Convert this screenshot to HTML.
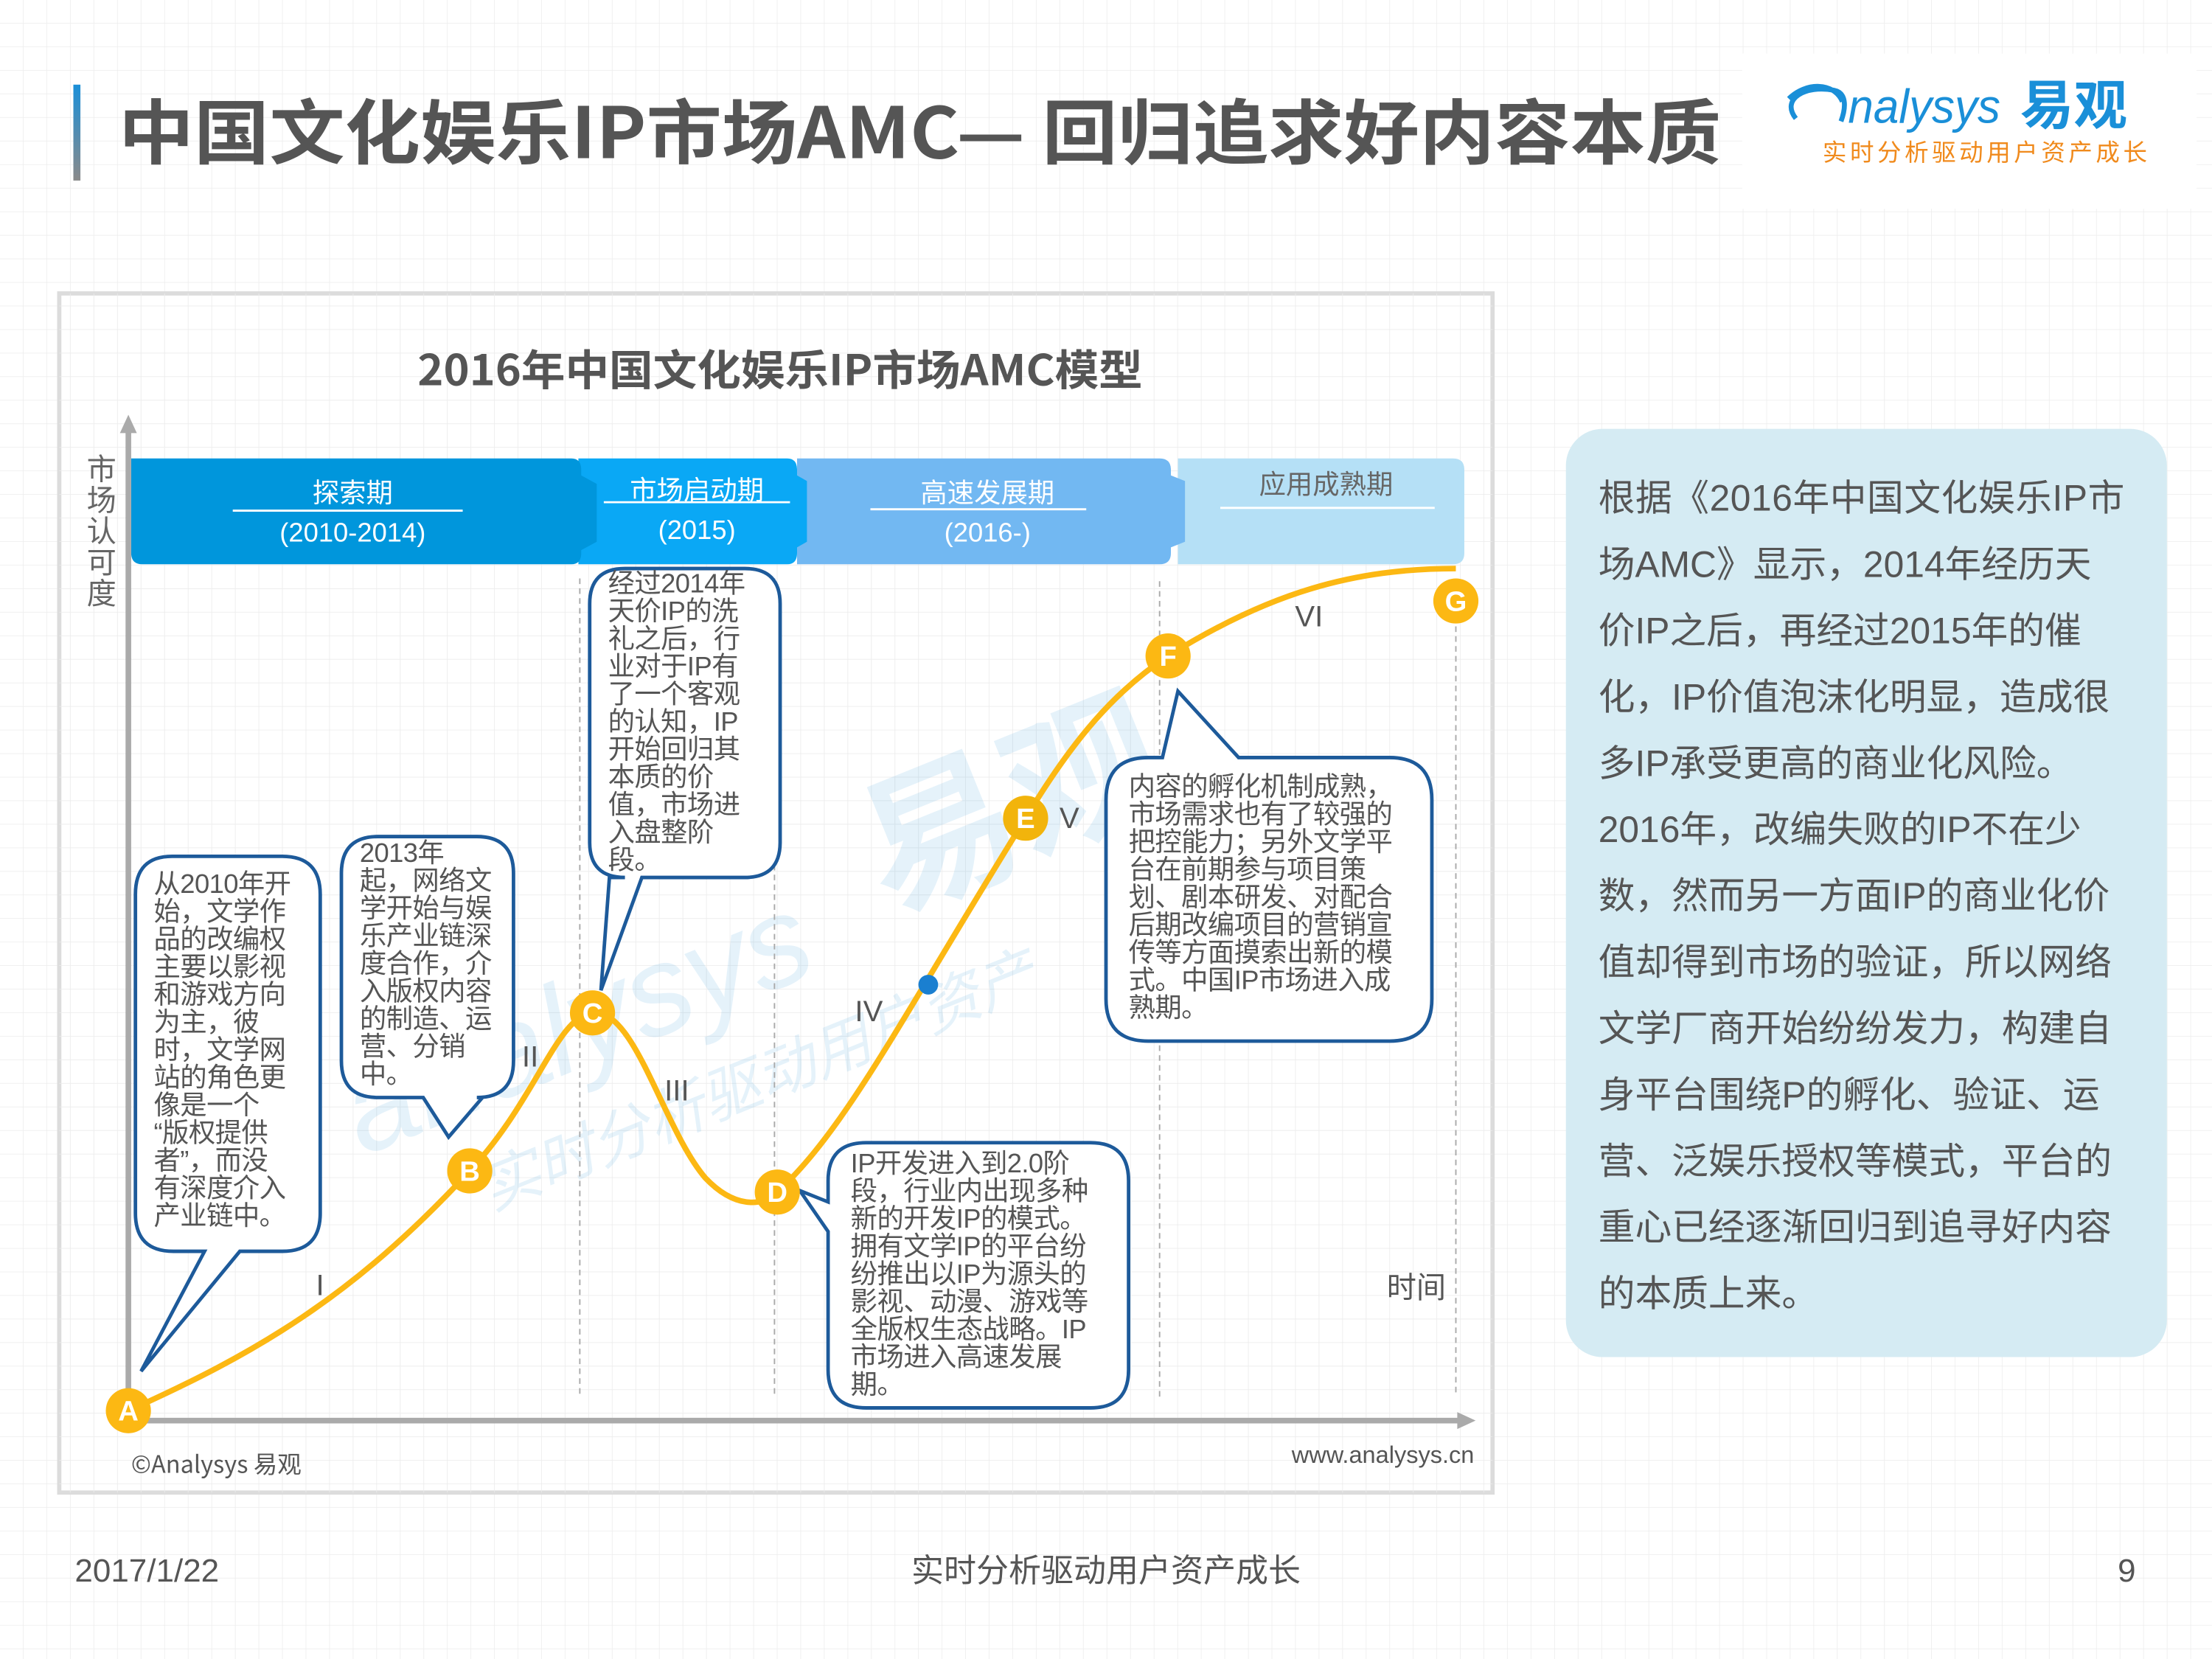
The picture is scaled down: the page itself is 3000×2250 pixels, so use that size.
<!DOCTYPE html>
<html><head><meta charset="utf-8">
<style>
html,body{margin:0;padding:0;background:#fff;}
svg{display:block;}
text{font-family:"Liberation Sans","Noto Sans CJK SC",sans-serif;}
.cjk{font-family:"Noto Sans CJK SC","Liberation Sans",sans-serif;}
.cb{fill:#555;font-size:19px;letter-spacing:-0.3px;}
.rp{fill:#555;font-size:26px;}
</style></head>
<body>
<svg width="3000" height="2250" viewBox="0 0 1568 1176" xmlns="http://www.w3.org/2000/svg">
<defs>
<pattern id="grid" width="16.7" height="16.7" patternUnits="userSpaceOnUse">
<path d="M16.7 0V16.7H0" fill="none" stroke="#ececec" stroke-width="0.8"/>
</pattern>
<linearGradient id="bar" x1="0" y1="0" x2="0" y2="1"><stop offset="0" stop-color="#1a8fd8"/><stop offset="1" stop-color="#8a8a8a"/></linearGradient>
</defs>
<rect width="1568" height="1176" fill="#fff"/>
<rect width="1568" height="1176" fill="url(#grid)"/>

<!-- header -->
<rect x="52" y="60" width="5" height="68" fill="url(#bar)"/>
<text x="84" y="112" class="cjk" font-size="50" font-weight="bold" fill="#555" textLength="1136" lengthAdjust="spacingAndGlyphs">中国文化娱乐IP市场AMC— 回归追求好内容本质</text>
<rect x="1235" y="38" width="322" height="110" fill="#fff"/>
<path d="M1273 84 C1262 70 1280 60 1300 64 C1310 66 1308 78 1305 86 M1268 70 C1280 58 1300 58 1306 72" fill="none" stroke="#1a8fd8" stroke-width="3.5"/>
<text x="1310" y="87" font-size="34" font-style="italic" fill="#1a8fd8" textLength="108" lengthAdjust="spacingAndGlyphs">nalysys</text>
<text x="1432" y="88" class="cjk" font-size="38" font-weight="bold" fill="#1a8fd8">易观</text>
<text x="1292" y="114" class="cjk" font-size="17" fill="#f08a1c" textLength="230" lengthAdjust="spacing">实时分析驱动用户资产成长</text>

<!-- chart frame -->
<rect x="42" y="208" width="1016" height="850" fill="#fff" fill-opacity="0.55" stroke="#dcdcdc" stroke-width="3"/>
<rect x="42" y="208" width="1016" height="850" fill="url(#grid)"/>
<text x="296" y="273" class="cjk" font-size="30" font-weight="bold" fill="#555" textLength="514" lengthAdjust="spacingAndGlyphs">2016年中国文化娱乐IP市场AMC模型</text>

<!-- watermark -->
<g opacity="0.11" transform="rotate(-22 500 700)">
<text x="230" y="720" font-size="90" font-style="italic" fill="#1a8fd8">analysys</text>
<text x="640" y="700" class="cjk" font-size="110" font-weight="bold" fill="#1a8fd8">易观</text>
<text x="300" y="790" class="cjk" font-size="42" fill="#1a8fd8" font-style="italic">实时分析驱动用户资产</text>
</g>

<!-- banner -->
<path d="M835 325 H1030 Q1038 325 1038 333 V392 Q1038 400 1030 400 H835 Z" fill="#b5e0f6"/>
<path d="M565 325 H822 Q830 325 830 333 V337 L840 341 V384 L830 388 V392 Q830 400 822 400 H565 Z" fill="#72b8f2"/>
<path d="M410 325 H558 Q565 325 565 333 V337 L572 341 V384 L565 388 V392 Q565 400 558 400 H410 Z" fill="#0aa8f5"/>
<path d="M93 325 H405 Q412 325 412 333 V337 L423 343 V384 L412 390 V392 Q412 400 405 400 H101 Q93 400 93 392 Z" fill="#0096dc"/>
<text x="250" y="356" class="cjk" font-size="19" fill="#fff" text-anchor="middle">探索期</text>
<line x1="165" y1="362" x2="328" y2="362" stroke="#fff" stroke-width="1.5"/>
<text x="250" y="384" font-size="19" fill="#fff" text-anchor="middle">(2010-2014)</text>
<text x="494" y="354" class="cjk" font-size="19" fill="#fff" text-anchor="middle">市场启动期</text>
<line x1="428" y1="356" x2="560" y2="356" stroke="#fff" stroke-width="1.5"/>
<text x="494" y="382" font-size="19" fill="#fff" text-anchor="middle">(2015)</text>
<text x="700" y="356" class="cjk" font-size="19" fill="#fff" text-anchor="middle">高速发展期</text>
<line x1="617" y1="361" x2="770" y2="361" stroke="#fff" stroke-width="1.5"/>
<text x="700" y="384" font-size="19" fill="#fff" text-anchor="middle">(2016-)</text>
<text x="940" y="350" class="cjk" font-size="19" fill="#666" text-anchor="middle">应用成熟期</text>
<line x1="865" y1="360" x2="1017" y2="360" stroke="#fff" stroke-width="1.5"/>

<!-- y label -->
<g class="cjk" font-size="21" fill="#666" text-anchor="middle">
<text x="72" y="340">市</text><text x="72" y="362">场</text><text x="72" y="384">认</text><text x="72" y="406">可</text><text x="72" y="428">度</text>
</g>

<!-- axes -->
<line x1="91" y1="305" x2="91" y2="1004" stroke="#aaa" stroke-width="4"/>
<path d="M85 307 L91 294 L97 307 Z" fill="#aaa"/>
<line x1="91" y1="1007" x2="1035" y2="1007" stroke="#aaa" stroke-width="4"/>
<path d="M1033 1001 L1046 1007 L1033 1013 Z" fill="#aaa"/>

<!-- dashed verticals -->
<g stroke="#aaa" stroke-width="1" stroke-dasharray="4,3">
<line x1="411" y1="410" x2="411" y2="990"/>
<line x1="549" y1="410" x2="549" y2="990"/>
<line x1="822" y1="412" x2="822" y2="990"/>
<line x1="1032" y1="430" x2="1032" y2="990"/>
</g>

<!-- curve -->
<path d="M91 1000 C180 960 250 920 333 830 C380 780 395 720 420 718 C450 714 470 800 500 835 C520 856 540 856 551 845 C600 800 640 720 727 580 C760 525 790 490 828 465 C900 420 960 403 1032 403" fill="none" stroke="#fcb813" stroke-width="4"/>
<circle cx="658" cy="698" r="7" fill="#1a7fd0"/>

<!-- roman numerals -->
<g font-size="21" fill="#555">
<text x="224" y="918">I</text>
<text x="370" y="756">II</text>
<text x="471" y="780">III</text>
<text x="606" y="724">IV</text>
<text x="751" y="587">V</text>
<text x="918" y="444">VI</text>
</g>
<text x="983" y="920" class="cjk" font-size="21" fill="#555">时间</text>

<!-- callouts -->
<g fill="#fff" stroke="#1d5a9a" stroke-width="2.5">
<path d="M122 607 H200 Q227 607 227 634 V860 Q227 887 200 887 H170 L100 972 L145 887 H123 Q96 887 96 860 V634 Q96 607 122 607 Z"/>
<path d="M268 593 H338 Q364 593 364 619 V752 Q364 778 338 778 H342 L318 806 L300 778 H268 Q242 778 242 752 V619 Q242 593 268 593 Z"/>
<path d="M443 403 H528 Q553 403 553 428 V597 Q553 622 528 622 H455 L426 702 L432 622 H443 Q418 622 418 597 V428 Q418 403 443 403 Z"/>
<path d="M614 810 H773 Q800 810 800 837 V971 Q800 998 773 998 H614 Q587 998 587 971 V873 L567 844 L587 852 V837 Q587 810 614 810 Z"/>
<path d="M814 537 H824 L835 490 L878 537 H985 Q1015 537 1015 567 V708 Q1015 738 985 738 H814 Q784 738 784 708 V567 Q784 537 814 537 Z"/>
</g>

<g class="cjk cb">
<text x="109" y="633"><tspan x="109">从2010年开</tspan><tspan x="109" dy="19.6">始，文学作</tspan><tspan x="109" dy="19.6">品的改编权</tspan><tspan x="109" dy="19.6">主要以影视</tspan><tspan x="109" dy="19.6">和游戏方向</tspan><tspan x="109" dy="19.6">为主，彼</tspan><tspan x="109" dy="19.6">时，文学网</tspan><tspan x="109" dy="19.6">站的角色更</tspan><tspan x="109" dy="19.6">像是一个</tspan><tspan x="109" dy="19.6">“版权提供</tspan><tspan x="109" dy="19.6">者”，而没</tspan><tspan x="109" dy="19.6">有深度介入</tspan><tspan x="109" dy="19.6">产业链中。</tspan></text>
<text x="255" y="611"><tspan x="255">2013年</tspan><tspan x="255" dy="19.6">起，网络文</tspan><tspan x="255" dy="19.6">学开始与娱</tspan><tspan x="255" dy="19.6">乐产业链深</tspan><tspan x="255" dy="19.6">度合作，介</tspan><tspan x="255" dy="19.6">入版权内容</tspan><tspan x="255" dy="19.6">的制造、运</tspan><tspan x="255" dy="19.6">营、分销</tspan><tspan x="255" dy="19.6">中。</tspan></text>
<text x="431" y="420"><tspan x="431">经过2014年</tspan><tspan x="431" dy="19.6">天价IP的洗</tspan><tspan x="431" dy="19.6">礼之后，行</tspan><tspan x="431" dy="19.6">业对于IP有</tspan><tspan x="431" dy="19.6">了一个客观</tspan><tspan x="431" dy="19.6">的认知，IP</tspan><tspan x="431" dy="19.6">开始回归其</tspan><tspan x="431" dy="19.6">本质的价</tspan><tspan x="431" dy="19.6">值，市场进</tspan><tspan x="431" dy="19.6">入盘整阶</tspan><tspan x="431" dy="19.6">段。</tspan></text>
<text x="603" y="831"><tspan x="603">IP开发进入到2.0阶</tspan><tspan x="603" dy="19.6">段，行业内出现多种</tspan><tspan x="603" dy="19.6">新的开发IP的模式。</tspan><tspan x="603" dy="19.6">拥有文学IP的平台纷</tspan><tspan x="603" dy="19.6">纷推出以IP为源头的</tspan><tspan x="603" dy="19.6">影视、动漫、游戏等</tspan><tspan x="603" dy="19.6">全版权生态战略。IP</tspan><tspan x="603" dy="19.6">市场进入高速发展</tspan><tspan x="603" dy="19.6">期。</tspan></text>
<text x="800" y="564"><tspan x="800">内容的孵化机制成熟，</tspan><tspan x="800" dy="19.6">市场需求也有了较强的</tspan><tspan x="800" dy="19.6">把控能力；另外文学平</tspan><tspan x="800" dy="19.6">台在前期参与项目策</tspan><tspan x="800" dy="19.6">划、剧本研发、对配合</tspan><tspan x="800" dy="19.6">后期改编项目的营销宣</tspan><tspan x="800" dy="19.6">传等方面摸索出新的模</tspan><tspan x="800" dy="19.6">式。中国IP市场进入成</tspan><tspan x="800" dy="19.6">熟期。</tspan></text>
</g>

<!-- nodes -->
<g font-size="20" font-weight="bold" fill="#fff" text-anchor="middle">
<circle cx="91" cy="1000" r="16" fill="#fcb813"/><text x="91" y="1007">A</text>
<circle cx="333" cy="830" r="16" fill="#fcb813"/><text x="333" y="837">B</text>
<circle cx="420" cy="718" r="16" fill="#fcb813"/><text x="420" y="725">C</text>
<circle cx="551" cy="845" r="16" fill="#fcb813"/><text x="551" y="852">D</text>
<circle cx="727" cy="580" r="16" fill="#f2b40c"/><text x="727" y="587">E</text>
<circle cx="828" cy="465" r="16" fill="#fcb813"/><text x="828" y="472">F</text>
<circle cx="1032" cy="426" r="16" fill="#fcb813"/><text x="1032" y="433">G</text>
</g>

<text x="93" y="1044" class="cjk" font-size="17" fill="#555">©Analysys 易观</text>
<text x="1045" y="1037" font-size="17" fill="#555" text-anchor="end">www.analysys.cn</text>

<!-- right panel -->
<rect x="1110" y="304" width="426" height="658" rx="26" fill="#d5ebf3"/>
<g class="cjk rp">
<text x="1133" y="362" textLength="373" lengthAdjust="spacing">根据《2016年中国文化娱乐IP市</text>
<text x="1133" y="409">场AMC》显示，2014年经历天</text>
<text x="1133" y="456">价IP之后，再经过2015年的催</text>
<text x="1133" y="503">化，IP价值泡沫化明显，造成很</text>
<text x="1133" y="550">多IP承受更高的商业化风险。</text>
<text x="1133" y="597">2016年，改编失败的IP不在少</text>
<text x="1133" y="644">数，然而另一方面IP的商业化价</text>
<text x="1133" y="691">值却得到市场的验证，所以网络</text>
<text x="1133" y="738">文学厂商开始纷纷发力，构建自</text>
<text x="1133" y="785">身平台围绕P的孵化、验证、运</text>
<text x="1133" y="832">营、泛娱乐授权等模式，平台的</text>
<text x="1133" y="879">重心已经逐渐回归到追寻好内容</text>
<text x="1133" y="926">的本质上来。</text>
</g>

<!-- footer -->
<text x="53" y="1121" font-size="23" fill="#555">2017/1/22</text>
<text x="784" y="1121" class="cjk" font-size="23" fill="#555" text-anchor="middle">实时分析驱动用户资产成长</text>
<text x="1514" y="1121" font-size="23" fill="#555" text-anchor="end">9</text>
</svg>
</body></html>
